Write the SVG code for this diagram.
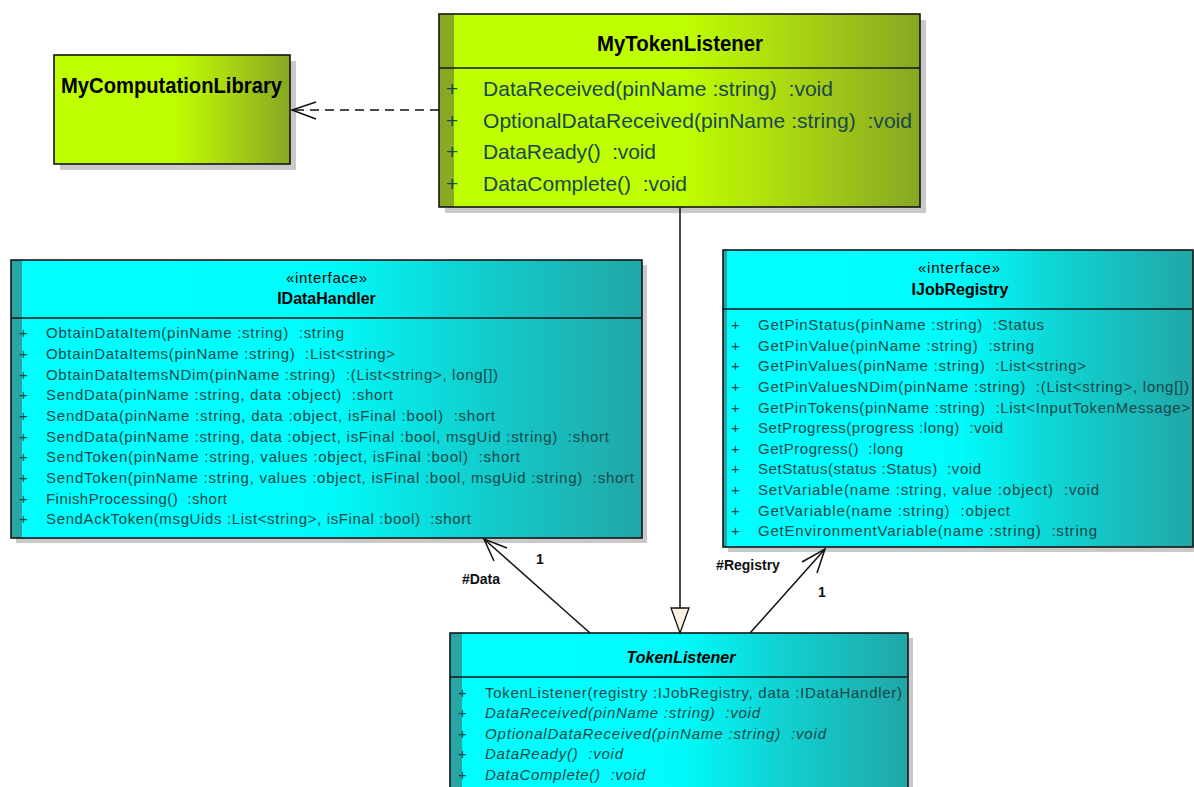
<svg xmlns="http://www.w3.org/2000/svg" width="1194" height="787" viewBox="0 0 1194 787">
<defs>
<linearGradient id="gGreen" x1="0" y1="0" x2="1" y2="0">
<stop offset="0" stop-color="#bfff00"/>
<stop offset="0.5" stop-color="#bfff00"/>
<stop offset="0.72" stop-color="#acd910"/>
<stop offset="1" stop-color="#88a624"/>
</linearGradient>
<linearGradient id="gCyan" x1="0" y1="0" x2="1" y2="0">
<stop offset="0" stop-color="#00ffff"/>
<stop offset="0.5" stop-color="#00fbfb"/>
<stop offset="0.72" stop-color="#10d2d2"/>
<stop offset="1" stop-color="#22a6a6"/>
</linearGradient>
<style>
.box{stroke:#141414;stroke-width:1.6}
.div{stroke:#141414;stroke-width:1.6}
.sh{fill:#c9c9c9}
.bandG{fill:#8aa824}
.bandC{fill:#28a6a6}
.f{font-family:"Liberation Sans",Arial,Helvetica,sans-serif}
.m{font-size:15px;fill:#154848}
.mg{font-size:21px;fill:#17484a}
.i{font-style:italic}
.ti{font-weight:bold;fill:#000}
.st{font-size:15px;fill:#000}
.lbl{font-size:14px;font-weight:bold;fill:#111}
.ln{stroke:#111;stroke-width:1.5;fill:none}
</style>
</defs>

<g id="node-MyComputationLibrary">
<rect class="sh" x="60" y="61" width="236" height="109"/>
<rect class="box" x="54" y="55" width="236" height="109" fill="url(#gGreen)"/>
<text class="f ti" x="61" y="93" font-size="22" textLength="221" lengthAdjust="spacingAndGlyphs">MyComputationLibrary</text>
</g>

<g id="node-MyTokenListener">
<rect class="sh" x="445" y="20" width="481" height="193"/>
<rect x="439" y="14" width="481" height="193" fill="url(#gGreen)"/>
<rect class="bandG" x="439" y="14" width="15" height="193"/>
<rect class="box" x="439" y="14" width="481" height="193" fill="none"/>
<line class="div" x1="439" y1="68" x2="920" y2="68"/>
<text class="f ti" x="597" y="51" font-size="22" textLength="166" lengthAdjust="spacingAndGlyphs">MyTokenListener</text>
<g class="f mg">
<text x="446" y="96">+</text><text x="483" y="96" textLength="350" lengthAdjust="spacing">DataReceived(pinName :string) &#160;:void</text>
<text x="446" y="128">+</text><text x="483" y="128" textLength="429" lengthAdjust="spacing">OptionalDataReceived(pinName :string) &#160;:void</text>
<text x="446" y="159">+</text><text x="483" y="159" textLength="173" lengthAdjust="spacing">DataReady() &#160;:void</text>
<text x="446" y="191">+</text><text x="483" y="191" textLength="204" lengthAdjust="spacing">DataComplete() &#160;:void</text>
</g>
</g>

<g id="node-IDataHandler">
<rect class="sh" x="16" y="265" width="631" height="278"/>
<rect x="11" y="260" width="631" height="278" fill="url(#gCyan)"/>
<rect class="bandC" x="11" y="260" width="11" height="278"/>
<rect class="box" x="11" y="260" width="631" height="278" fill="none"/>
<line class="div" x1="11" y1="318" x2="642" y2="318"/>
<text class="f st" x="326.5" y="283" text-anchor="middle" textLength="81" lengthAdjust="spacing">«interface»</text>
<text class="f ti" x="326.5" y="304" font-size="16" text-anchor="middle">IDataHandler</text>
<g class="f m">
<text x="19" y="338">+</text><text x="46" y="338" textLength="298" lengthAdjust="spacing">ObtainDataItem(pinName :string) &#160;:string</text>
<text x="19" y="359">+</text><text x="46" y="359" textLength="349" lengthAdjust="spacing">ObtainDataItems(pinName :string) &#160;:List&lt;string&gt;</text>
<text x="19" y="380">+</text><text x="46" y="380" textLength="452" lengthAdjust="spacing">ObtainDataItemsNDim(pinName :string) &#160;:(List&lt;string&gt;, long[])</text>
<text x="19" y="400">+</text><text x="46" y="400" textLength="347" lengthAdjust="spacing">SendData(pinName :string, data :object) &#160;:short</text>
<text x="19" y="421">+</text><text x="46" y="421" textLength="449" lengthAdjust="spacing">SendData(pinName :string, data :object, isFinal :bool) &#160;:short</text>
<text x="19" y="442">+</text><text x="46" y="442" textLength="563" lengthAdjust="spacing">SendData(pinName :string, data :object, isFinal :bool, msgUid :string) &#160;:short</text>
<text x="19" y="462">+</text><text x="46" y="462" textLength="474" lengthAdjust="spacing">SendToken(pinName :string, values :object, isFinal :bool) &#160;:short</text>
<text x="19" y="483">+</text><text x="46" y="483" textLength="588" lengthAdjust="spacing">SendToken(pinName :string, values :object, isFinal :bool, msgUid :string) &#160;:short</text>
<text x="19" y="504">+</text><text x="46" y="504" textLength="181" lengthAdjust="spacing">FinishProcessing() &#160;:short</text>
<text x="19" y="524">+</text><text x="46" y="524" textLength="425" lengthAdjust="spacing">SendAckToken(msgUids :List&lt;string&gt;, isFinal :bool) &#160;:short</text>
</g>
</g>

<g id="node-IJobRegistry">
<rect class="sh" x="728" y="255" width="470" height="297"/>
<rect x="723" y="250" width="470" height="297" fill="url(#gCyan)"/>
<rect class="bandC" x="723" y="250" width="4" height="297"/>
<rect class="box" x="723" y="250" width="470" height="297" fill="none"/>
<line class="div" x1="723" y1="309" x2="1193" y2="309"/>
<text class="f st" x="959" y="273" text-anchor="middle" textLength="82" lengthAdjust="spacing">«interface»</text>
<text class="f ti" x="960" y="295" font-size="16" text-anchor="middle">IJobRegistry</text>
<g class="f m">
<text x="731" y="330">+</text><text x="758" y="330" textLength="286" lengthAdjust="spacing">GetPinStatus(pinName :string) &#160;:Status</text>
<text x="731" y="351">+</text><text x="758" y="351" textLength="276" lengthAdjust="spacing">GetPinValue(pinName :string) &#160;:string</text>
<text x="731" y="371">+</text><text x="758" y="371" textLength="328" lengthAdjust="spacing">GetPinValues(pinName :string) &#160;:List&lt;string&gt;</text>
<text x="731" y="392">+</text><text x="758" y="392" textLength="431" lengthAdjust="spacing">GetPinValuesNDim(pinName :string) &#160;:(List&lt;string&gt;, long[])</text>
<text x="731" y="413">+</text><text x="758" y="413" textLength="432" lengthAdjust="spacing">GetPinTokens(pinName :string) &#160;:List&lt;InputTokenMessage&gt;</text>
<text x="731" y="433">+</text><text x="758" y="433" textLength="245" lengthAdjust="spacing">SetProgress(progress :long) &#160;:void</text>
<text x="731" y="454">+</text><text x="758" y="454" textLength="145" lengthAdjust="spacing">GetProgress() &#160;:long</text>
<text x="731" y="474">+</text><text x="758" y="474" textLength="223" lengthAdjust="spacing">SetStatus(status :Status) &#160;:void</text>
<text x="731" y="495">+</text><text x="758" y="495" textLength="341" lengthAdjust="spacing">SetVariable(name :string, value :object) &#160;:void</text>
<text x="731" y="516">+</text><text x="758" y="516" textLength="252" lengthAdjust="spacing">GetVariable(name :string) &#160;:object</text>
<text x="731" y="536">+</text><text x="758" y="536" textLength="339" lengthAdjust="spacing">GetEnvironmentVariable(name :string) &#160;:string</text>
</g>
</g>

<g id="node-TokenListener">
<rect class="sh" x="455" y="638" width="458" height="170"/>
<rect x="450" y="633" width="458" height="170" fill="url(#gCyan)"/>
<rect class="bandC" x="450" y="633" width="12" height="170"/>
<rect class="box" x="450" y="633" width="458" height="170" fill="none"/>
<line class="div" x1="450" y1="677" x2="908" y2="677"/>
<text class="f ti i" x="681" y="663" font-size="16" text-anchor="middle">TokenListener</text>
<g class="f m">
<text x="458" y="698">+</text><text x="485" y="698" textLength="417" lengthAdjust="spacing">TokenListener(registry :IJobRegistry, data :IDataHandler)</text>
<text x="458" y="718">+</text><text class="i" x="485" y="718" textLength="275" lengthAdjust="spacing">DataReceived(pinName :string) &#160;:void</text>
<text x="458" y="739">+</text><text class="i" x="485" y="739" textLength="341" lengthAdjust="spacing">OptionalDataReceived(pinName :string) &#160;:void</text>
<text x="458" y="759">+</text><text class="i" x="485" y="759" textLength="138" lengthAdjust="spacing">DataReady() &#160;:void</text>
<text x="458" y="780">+</text><text class="i" x="485" y="780" textLength="160" lengthAdjust="spacing">DataComplete() &#160;:void</text>
</g>
</g>

<g id="connectors">
<line class="ln" x1="439" y1="110" x2="292" y2="110" stroke-dasharray="9,6"/>
<polyline class="ln" points="316,102 292,110 316,119"/>
<line class="ln" x1="680" y1="207" x2="680" y2="608"/>
<polygon points="671,608 689,608 680,633" fill="#fcf2e2" stroke="#111" stroke-width="1.3"/>
<line class="ln" x1="590" y1="633" x2="484" y2="539"/>
<polyline class="ln" points="507,548 484,539 494,561"/>
<text class="f lbl" x="540" y="564" text-anchor="middle">1</text>
<text class="f lbl" x="481" y="584" text-anchor="middle">#Data</text>
<line class="ln" x1="750" y1="633" x2="825" y2="549"/>
<polyline class="ln" points="802,562 825,549 817,573"/>
<text class="f lbl" x="748" y="570" text-anchor="middle">#Registry</text>
<text class="f lbl" x="822" y="597" text-anchor="middle">1</text>
</g>
</svg>
